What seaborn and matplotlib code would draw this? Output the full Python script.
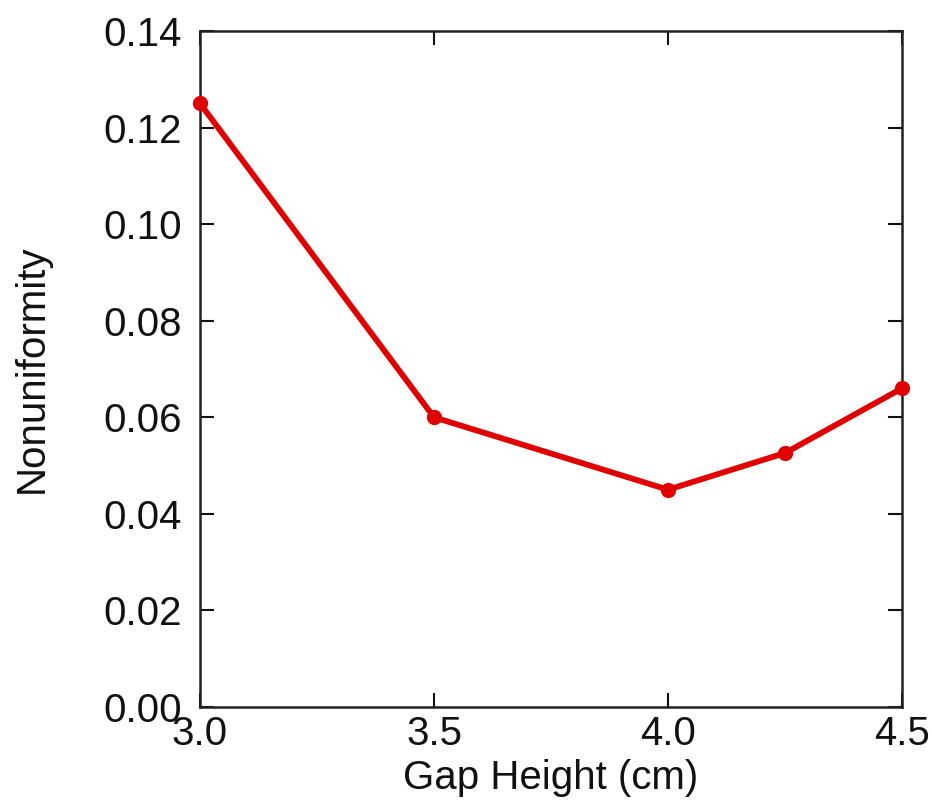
import matplotlib
matplotlib.use("Agg")
import matplotlib.pyplot as plt
import seaborn as sns
import pandas as pd

gap_height = [3.0, 3.5, 4.0, 4.25, 4.5]
nonuniformity = [0.125, 0.060, 0.045, 0.0526, 0.066]
x_ticks = [3.0, 3.5, 4.0, 4.5]
y_ticks = [0.00, 0.02, 0.04, 0.06, 0.08, 0.10, 0.12, 0.14]

sns.set_theme(style="ticks")
plt.rcParams['font.family'] = ['Liberation Sans', 'DejaVu Sans']

df = pd.DataFrame({"Gap Height (cm)": gap_height, "Nonuniformity": nonuniformity})

fig = plt.figure(figsize=(9.32, 8.09), dpi=100)
ax = fig.add_axes([200/932, 1-707/809, 702/932, 676/809])

sns.lineplot(data=df, x="Gap Height (cm)", y="Nonuniformity", ax=ax,
             color="#e00000", linewidth=4.2, marker="o", markersize=11,
             markeredgewidth=0, clip_on=False, zorder=5)

ax.set_xlim(3.0, 4.5)
ax.set_ylim(0, 0.14)
ax.set_xticks(x_ticks)
ax.set_xticklabels([f"{v:.1f}" for v in x_ticks])
ax.set_yticks(y_ticks)
ax.set_yticklabels([f"{v:.2f}" for v in y_ticks])
ax.tick_params(direction="in", length=10, width=1.5, top=True, right=True,
               labelsize=29, colors="#111111")
ax.tick_params(axis="y", pad=13)
ax.tick_params(axis="x", pad=6)
for s in ax.spines.values():
    s.set_linewidth(1.8)
    s.set_color("#222222")
ax.set_xlabel("Gap Height (cm)", fontsize=29, labelpad=4, color="#111111")
ax.set_ylabel("Nonuniformity", fontsize=29, labelpad=38, color="#111111")

fig.savefig("out.png", dpi=100)
